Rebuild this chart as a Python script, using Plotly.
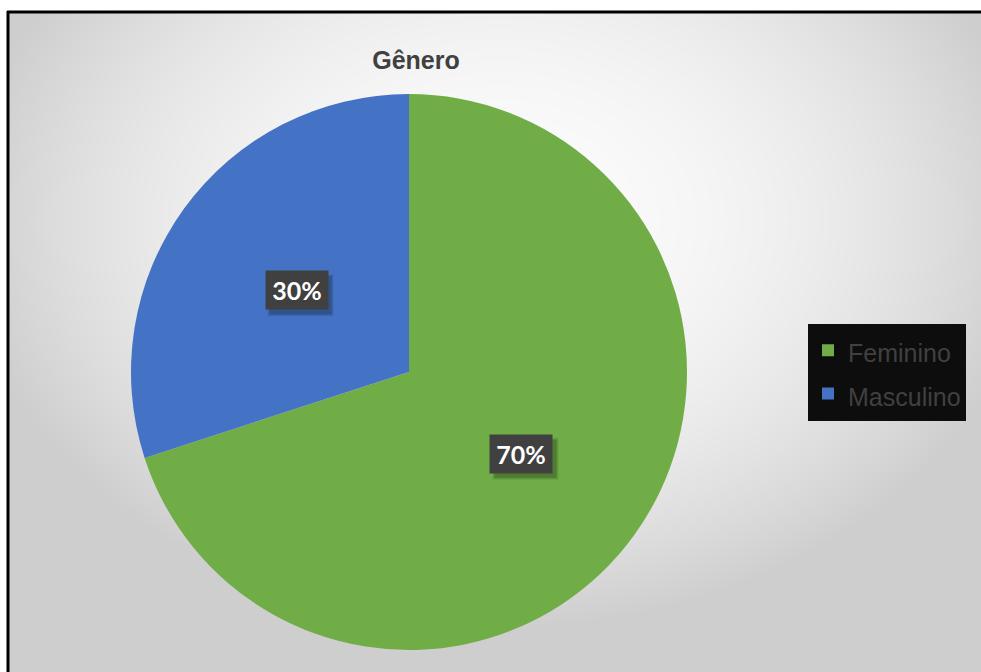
import base64
import math
import struct
import zlib

import numpy as np
import plotly.graph_objects as go

# ---- data ----
categories = ["Feminino", "Masculino"]
values = [70, 30]
colors = ["#70AD47", "#4472C4"]
title_text = "Gênero"

W, H = 981, 672

# ---- background radial gradient (PNG data URI) ----
def make_png(arr):
    h, w = arr.shape
    raw = b"".join(b"\x00" + arr[i].astype(np.uint8).tobytes() for i in range(h))

    def chunk(tag, data):
        c = struct.pack(">I", len(data)) + tag + data
        return c + struct.pack(">I", zlib.crc32(tag + data) & 0xFFFFFFFF)

    png = b"\x89PNG\r\n\x1a\n"
    png += chunk(b"IHDR", struct.pack(">IIBBBBB", w, h, 8, 0, 0, 0, 0))
    png += chunk(b"IDAT", zlib.compress(raw, 9))
    png += chunk(b"IEND", b"")
    return "data:image/png;base64," + base64.b64encode(png).decode()

yy, xx = np.mgrid[0:H, 0:W].astype(float)
t2 = ((xx - 500) / 540) ** 2 + ((yy - 220) / 410) ** 2
bg = np.clip(252 - 46 * t2, 206, 252)
bg[:, :7] = 255
bg[:11, :] = 255
bg_uri = make_png(bg)

# ---- pie geometry ----
cx_px, cy_px, R = 409, 372, 278
dom_x = [(cx_px - R) / W, (cx_px + R) / W]
dom_y = [1 - (cy_px + R) / H, 1 - (cy_px - R) / H]

legend_labels = [f"<span style='font-size:25px'>{c}</span>" for c in categories]

fig = go.Figure()
fig.add_trace(
    go.Pie(
        labels=legend_labels,
        values=values,
        marker=dict(colors=colors, line=dict(width=0)),
        sort=False,
        direction="clockwise",
        rotation=0,
        textinfo="none",
        hoverinfo="percent",
        domain=dict(x=dom_x, y=dom_y),
    )
)

# ---- data labels (boxes with soft shadow) ----
total = sum(values)
annotations = []
shapes = []
box_w, box_h = 62, 38
cum = 0
for v in values:
    mid = (cum + v / 2) / total * 2 * math.pi
    cum += v
    lx = cx_px + 0.5 * R * math.sin(mid)
    ly = cy_px - 0.5 * R * math.cos(mid)
    pct = f"<b>{round(v / total * 100)}%</b>"
    # soft shadow: a few stacked translucent rectangles
    for k, a in [(0, 0.08), (1, 0.10), (2, 0.12)]:
        sx0 = lx - box_w / 2 + 4 - (2 - k)
        sx1 = lx + box_w / 2 + 4 + (2 - k)
        sy0 = ly - box_h / 2 + 5 - (2 - k)
        sy1 = ly + box_h / 2 + 5 + (2 - k)
        shapes.append(dict(type="rect", xref="paper", yref="paper",
                           x0=sx0 / W, x1=sx1 / W, y0=1 - sy1 / H, y1=1 - sy0 / H,
                           fillcolor=f"rgba(0,0,0,{a})", line=dict(width=0),
                           layer="above"))
    annotations.append(dict(
        x=lx / W, y=1 - ly / H, xref="paper", yref="paper",
        xanchor="center", yanchor="middle",
        showarrow=False, text=pct,
        width=box_w, height=box_h, borderpad=0,
        bgcolor="#404040",
        font=dict(family="Lato", size=25, color="white"),
    ))

shapes += [
    dict(type="line", xref="paper", yref="paper",
         x0=7 / W, x1=1, y0=1 - 12 / H, y1=1 - 12 / H,
         line=dict(color="black", width=3)),
    dict(type="line", xref="paper", yref="paper",
         x0=8 / W, x1=8 / W, y0=0, y1=1 - 11 / H,
         line=dict(color="black", width=3)),
]

fig.update_layout(
    width=W,
    height=H,
    margin=dict(l=0, r=0, t=0, b=0),
    paper_bgcolor="white",
    title=dict(
        text=f"<b>{title_text}</b>",
        x=416 / W, xanchor="center",
        y=1 - 60 / H, yanchor="middle",
        font=dict(family="Liberation Sans", size=25, color="#404040"),
    ),
    legend=dict(
        x=808 / W, xanchor="left",
        y=1 - 372 / H, yanchor="middle",
        bgcolor="#0d0d0d",
        font=dict(family="Liberation Sans", size=31, color="#404040"),
        itemwidth=30,
    ),
    images=[dict(source=bg_uri, xref="paper", yref="paper", x=0, y=1,
                 sizex=1, sizey=1, xanchor="left", yanchor="top",
                 sizing="stretch", layer="below")],
    shapes=shapes,
    annotations=annotations,
)

fig.write_html("out.html")
